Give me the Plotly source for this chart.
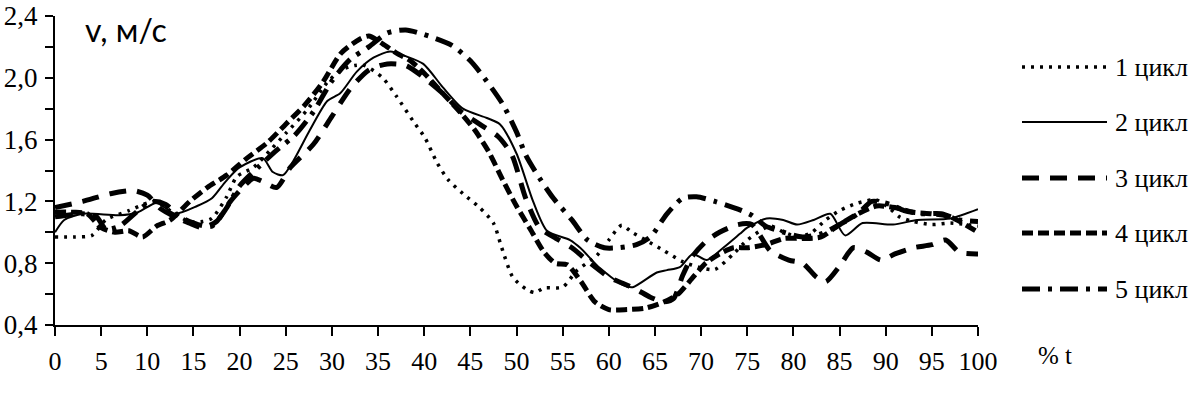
import plotly.graph_objects as go

# ---------------- data ----------------
x1 = [0, 2, 4, 5.5, 8, 10, 11, 12.5, 14.5, 16, 17, 18.6, 19.7, 21.5, 23.3, 25, 27.3, 29.5, 31, 32.5, 33.5,
      35.5, 37, 38.8, 40.1, 41.4, 42.6, 44.2, 46, 47.5, 48.4, 49.6, 51.1, 52, 53, 55, 56.5, 58.7, 60, 61.4,
      62.5, 64, 66, 68, 70, 71.5, 73.5, 75, 77.5, 79, 80.5, 82, 83.5, 85, 87, 89, 90.5, 91.5, 93, 95, 97, 100]
y1 = [0.97, 0.97, 0.98, 1.08, 1.14, 1.19, 1.2, 1.14, 1.07, 1.07, 1.09, 1.23, 1.36, 1.42, 1.53, 1.64, 1.79,
      1.97, 2.05, 2.08, 2.08, 2.0, 1.88, 1.72, 1.61, 1.45, 1.34, 1.25, 1.16, 1.06, 0.9, 0.71, 0.63, 0.61,
      0.64, 0.645, 0.75, 0.85, 0.95, 1.045, 1.0, 0.95, 0.88, 0.81, 0.77, 0.76, 0.86, 0.95, 1.04, 1.0, 0.97,
      1.0, 1.08, 1.14, 1.19, 1.21, 1.15, 1.1, 1.07, 1.05, 1.06, 1.04]

x2 = [0, 1, 3, 7, 9, 11, 13, 15.4, 17, 18.5, 20, 22.5, 23.6, 24.7, 25.8, 27.6, 29.5, 30.9, 32.7, 34.5,
      36.3, 38, 39.9, 42, 44.2, 46.8, 48.2, 50, 51.8, 53.3, 55.8, 56.9, 59, 61.5, 62.6, 65.2, 66.3, 67.7,
      69.1, 70.6, 72.4, 74.2, 75, 77.1, 78.9, 80.4, 82.2, 84, 85.6, 87.5, 90.8, 93.4, 97, 100]
y2 = [1.0, 1.08, 1.12, 1.11, 1.13, 1.19, 1.12, 1.17, 1.22, 1.33, 1.42, 1.48, 1.39, 1.37, 1.46, 1.66, 1.85,
      1.9, 2.04, 2.13, 2.17, 2.14, 2.09, 1.94, 1.8, 1.74, 1.7, 1.51, 1.2, 1.01, 0.95, 0.9, 0.77, 0.66, 0.645,
      0.74, 0.755, 0.775, 0.86, 0.82, 0.9, 0.99, 1.03, 1.09, 1.08, 1.05, 1.08, 1.12, 0.98, 1.06, 1.05, 1.08,
      1.09, 1.15]

x3 = [0, 3, 6, 8.5, 10, 11.5, 13, 14.5, 16, 17.5, 19, 20.5, 21.5, 22.5, 24, 25.5, 28, 30, 32, 34, 36, 38,
      40, 42, 44, 46, 48, 49.5, 51, 52.5, 54, 56, 58, 60, 61.5, 63, 64.5, 66, 67, 68, 69, 70.5, 72, 74, 75.5,
      77.5, 79.5, 81, 82.5, 83.5, 85, 86.5, 88, 89.5, 91, 93, 95, 96.5, 98, 100]
y3 = [1.16, 1.2, 1.25, 1.27, 1.24, 1.15, 1.1, 1.06, 1.03, 1.07, 1.2, 1.3, 1.35, 1.33, 1.29, 1.42, 1.57,
      1.75, 1.93, 2.05, 2.09, 2.08, 2.0, 1.9, 1.78, 1.7, 1.62, 1.5, 1.22, 1.03, 0.97, 0.9, 0.8, 0.71, 0.67,
      0.63, 0.58, 0.55, 0.57, 0.72, 0.84, 0.94, 1.0, 1.05, 1.05, 0.88, 0.82, 0.8, 0.71, 0.68, 0.78, 0.9,
      0.87, 0.82, 0.86, 0.9, 0.92, 0.95, 0.87, 0.86]

x4 = [0, 2, 3.5, 5, 6.5, 8, 9.5, 11, 12.5, 14.6, 16.5, 18.6, 20.8, 23, 25, 27, 29, 31, 33, 34, 35.5, 37,
      38.5, 40, 42, 44, 45.5, 47, 48.5, 50, 51.5, 53, 54.2, 55.5, 57, 58.5, 60, 62, 64, 66, 67.5, 69, 70.5,
      72, 73.5, 75, 77, 79, 81, 83, 85, 87, 89, 91, 93, 95, 97, 100]
y4 = [1.13, 1.13, 1.12, 1.03, 1.0, 1.01, 0.97, 1.04, 1.08, 1.2, 1.29, 1.37, 1.48, 1.58, 1.7, 1.82, 1.97,
      2.16, 2.25, 2.27, 2.22, 2.16, 2.11, 2.03, 1.9, 1.77, 1.66, 1.52, 1.34, 1.17, 1.02, 0.87, 0.8, 0.79,
      0.68, 0.55, 0.5, 0.5, 0.51, 0.55, 0.6, 0.7, 0.8, 0.86, 0.9, 0.9, 0.92, 0.96, 0.96, 0.97, 1.05, 1.12,
      1.17, 1.16, 1.13, 1.12, 1.1, 1.0]

x5 = [0, 3, 4.5, 5.5, 7, 9, 10.5, 12, 13.5, 15.5, 17, 18.5, 20, 22, 24, 26, 28, 30, 32, 34, 36, 38, 40,
      43, 45, 46.5, 48.5, 50, 51, 52.5, 54, 56, 57.7, 59.5, 61, 63, 64.5, 66.3, 68, 69.5, 71.5, 74, 75.5,
      77, 79, 81, 83, 85, 87, 88.5, 90.5, 92, 94, 96, 98, 100]
y5 = [1.1, 1.12, 1.1, 1.02, 1.04, 1.14, 1.2, 1.18, 1.1, 1.05, 1.04, 1.15, 1.3, 1.42, 1.53, 1.63, 1.78,
      1.98, 2.12, 2.2, 2.29, 2.31, 2.28, 2.21, 2.11, 2.0, 1.83, 1.65, 1.5, 1.35, 1.22, 1.08, 0.95, 0.9, 0.9,
      0.92, 0.97, 1.12, 1.22, 1.23, 1.2, 1.15, 1.11, 1.04, 1.0, 0.97, 0.99, 1.05, 1.12, 1.2, 1.18, 1.14,
      1.12, 1.12, 1.08, 1.07]

series_names = ["1 цикл", "2 цикл", "3 цикл", "4 цикл", "5 цикл"]
x_ticks = list(range(0, 101, 5))
y_ticks = [0.4, 0.8, 1.2, 1.6, 2.0, 2.4]
y_tick_labels = ["0,4", "0,8", "1,2", "1,6", "2,0", "2,4"]
y_minor = [0.6, 1.0, 1.4, 1.8, 2.2]

# ---------------- styles ----------------
styles = [
    dict(width=3.5, dash="3px,6px"),
    dict(width=2, dash="solid"),
    dict(width=5, dash="17px,11px"),
    dict(width=5, dash="11px,5px"),
    dict(width=5, dash="18px,8px,4px,8px"),
]

serif = "Liberation Serif"

fig = go.Figure()
for xs, ys, nm, st in zip([x1, x2, x3, x4, x5], [y1, y2, y3, y4, y5], series_names, styles):
    fig.add_trace(go.Scatter(
        x=xs, y=ys, name=nm, mode="lines", showlegend=False,
        line=dict(color="black", width=st["width"], dash=st["dash"], shape="spline", smoothing=0.7),
    ))

L, R, T, B = 55, 222, 16, 68
W, H = 1200, 393
pw, ph = W - L - R, H - T - B


def px_x(px):
    return (px - L) / pw


def px_y(py):
    return (H - B - py) / ph


# legend drawn manually
leg_y = [67, 122, 178, 233, 289]
for nm, st, yy in zip(series_names, styles, leg_y):
    fig.add_shape(type="line", xref="paper", yref="paper",
                  x0=px_x(1022), x1=px_x(1107), y0=px_y(yy), y1=px_y(yy),
                  line=dict(color="black", width=st["width"], dash=st["dash"]))
    fig.add_annotation(text=nm, xref="paper", yref="paper", x=px_x(1113), y=px_y(yy),
                       xanchor="left", yanchor="middle", showarrow=False,
                       font=dict(family=serif, size=26, color="black"))

fig.add_annotation(text="v, м/с", xref="paper", yref="paper", x=px_x(83), y=px_y(29),
                   xanchor="left", yanchor="middle", showarrow=False,
                   font=dict(family="Lato", size=32, color="black"))
fig.add_annotation(text="% t", xref="paper", yref="paper", x=px_x(1036), y=px_y(355),
                   xanchor="left", yanchor="middle", showarrow=False,
                   font=dict(family=serif, size=25, color="black"))

fig.update_layout(
    width=W, height=H,
    margin=dict(l=L, r=R, t=T, b=B, autoexpand=False),
    paper_bgcolor="white", plot_bgcolor="white",
    xaxis=dict(range=[0, 100], tickvals=x_ticks, ticks="outside", ticklen=9, tickwidth=2,
               tickcolor="black", showline=True, linewidth=2, linecolor="black",
               showgrid=False, zeroline=False, ticklabelstandoff=3, automargin=False,
               tickfont=dict(family=serif, size=26, color="black")),
    yaxis=dict(range=[0.4, 2.4], tickvals=y_ticks, ticktext=y_tick_labels, ticks="outside",
               ticklen=8, tickwidth=2, tickcolor="black", showline=True, linewidth=2,
               linecolor="black", showgrid=False, zeroline=False, automargin=False,
               ticklabelstandoff=2,
               minor=dict(tickvals=y_minor, ticks="outside", ticklen=8, tickwidth=2, tickcolor="black",
                          showgrid=False),
               tickfont=dict(family=serif, size=27, color="black")),
)

fig.write_html("out.html")
